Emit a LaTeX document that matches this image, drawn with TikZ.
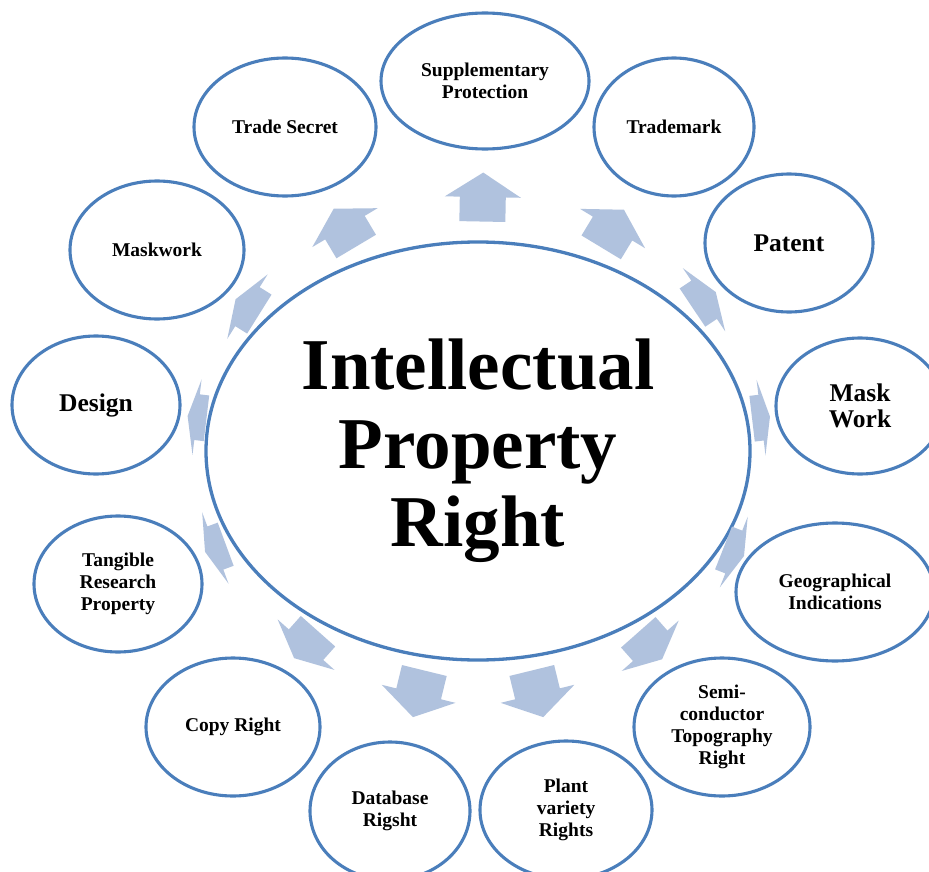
\documentclass[tikz,border=0pt]{standalone}
\usepackage{fontspec}
\setmainfont{Liberation Serif}
\usetikzlibrary{shapes.geometric,calc}
\definecolor{ringblue}{RGB}{74,126,187}
\definecolor{arrowfill}{RGB}{176,194,222}
\tikzset{
  hub/.style={ellipse, draw=ringblue, line width=3.3pt, inner sep=0pt,
    minimum width=544pt, minimum height=418pt, align=center,
    font=\bfseries\fontsize{73}{78.5}\selectfont},
  sat/.style 2 args={ellipse, draw=ringblue, line width=3.1pt, inner sep=0pt,
    minimum width=#1, minimum height=#2, align=center,
    font=\bfseries\fontsize{19.5}{22}\selectfont},
  bigtext/.style={font=\bfseries\fontsize{25.5}{26}\selectfont},
  radarrow/.style={fill=arrowfill, draw=none}
}
\newcommand{\radialarrow}[4]{%
  \pgfmathsetmacro\arTail{#3-#4/2}%
  \pgfmathsetmacro\arBase{#3}%
  \pgfmathsetmacro\arTip{#3+#4/2}%
  \coordinate (#2-tail) at ($(#1.center)!\arTail pt!(#2.center)$);
  \coordinate (#2-base) at ($(#1.center)!\arBase pt!(#2.center)$);
  \coordinate (#2-tip) at ($(#1.center)!\arTip pt!(#2.center)$);
  \fill[radarrow] ($(#2-tail)!23pt!90:(#2.center)$) -- ($(#2-base)!23pt!90:(#2.center)$)
    -- ($(#2-base)!38pt!90:(#2.center)$) -- (#2-tip)
    -- ($(#2-base)!38pt!-90:(#2.center)$) -- ($(#2-base)!23pt!-90:(#2.center)$)
    -- ($(#2-tail)!23pt!-90:(#2.center)$) -- cycle;
}
\begin{document}
\begin{tikzpicture}[x=1pt,y=-1pt]
\useasboundingbox (0,0) rectangle (929,872);
\clip (0,0) rectangle (929,872);
\fill[white] (0,0) rectangle (929,872);

\node[hub] (ipr) at (478,451) {Intellectual\\Property\\Right};

\node[sat={208pt}{136pt}] (supp) at (485,81) {Supplementary\\Protection};
\node[sat={182pt}{138pt}] (trsec) at (285,127) {Trade Secret};
\node[sat={160pt}{138pt}] (trmark) at (674,127) {Trademark};
\node[sat={168pt}{138pt}, bigtext] (patent) at (789,243) {Patent};
\node[sat={168pt}{136pt}, bigtext] (maskr) at (860,406) {Mask\\Work};
\node[sat={198pt}{138pt}] (geo) at (835,592) {Geographical\\Indications};
\node[sat={176pt}{138pt}] (semi) at (722,727) {Semi-\\conductor\\Topography\\Right};
\node[sat={172pt}{138pt}] (plant) at (566,810) {Plant\\variety\\Rights};
\node[sat={160pt}{138pt}] (dbase) at (390,811) {Database\\Rigsht};
\node[sat={174pt}{138pt}] (copy) at (233,727) {Copy Right};
\node[sat={168pt}{136pt}] (tang) at (118,584) {Tangible\\Research\\Property};
\node[sat={168pt}{138pt}, bigtext] (design) at (96,405) {Design};
\node[sat={174pt}{138pt}] (maskl) at (157,250) {Maskwork};

\radialarrow{ipr}{supp}{254}{49}
\radialarrow{ipr}{trsec}{260}{44}
\radialarrow{ipr}{trmark}{260}{44}
\radialarrow{ipr}{patent}{272}{28}
\radialarrow{ipr}{maskr}{285}{18}
\radialarrow{ipr}{geo}{275}{22}
\radialarrow{ipr}{semi}{260}{36}
\radialarrow{ipr}{plant}{250}{48}
\radialarrow{ipr}{dbase}{250}{48}
\radialarrow{ipr}{copy}{259}{36}
\radialarrow{ipr}{tang}{280}{22}
\radialarrow{ipr}{design}{283}{19}
\radialarrow{ipr}{maskl}{272}{28}
\end{tikzpicture}
\end{document}
